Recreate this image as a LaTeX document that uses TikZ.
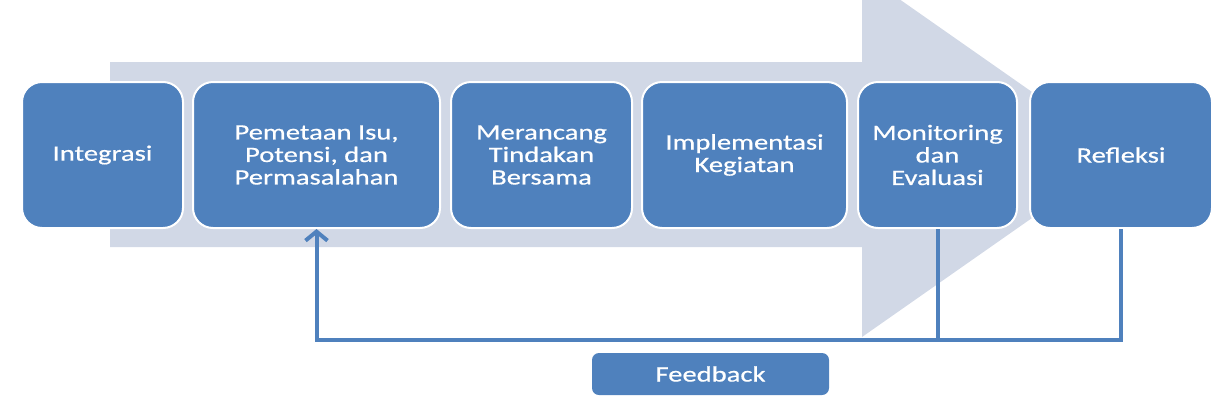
\documentclass[tikz,border=0pt]{standalone}
\usepackage{fontspec}
\setmainfont{Carlito}[FakeStretch=1.3,FakeBold=0.6]
\usetikzlibrary{arrows.meta}
\definecolor{boxblue}{HTML}{4F81BD}
\definecolor{arrowgray}{HTML}{D1D8E6}
\begin{document}
\begin{tikzpicture}[x=1pt,y=-1pt,
  stage/.style={fill=boxblue, draw=white, line width=2pt, rounded corners=20pt,
    text=white, align=center, font=\fontsize{22}{22.5}\selectfont, inner sep=0pt,
    minimum height=146pt},
  fbbox/.style={fill=boxblue, rounded corners=7pt, text=white,
    font=\fontsize{22}{22.5}\selectfont, inner sep=0pt},
  fbl/.style={draw=boxblue, line width=4pt}]
\useasboundingbox (0,0) rectangle (1226,410);
\clip (0,0) rectangle (1226,410);
% big background arrow
\fill[arrowgray] (110,62) -- (862,62) -- (862,-27) -- (1122,155) -- (862,337) -- (862,247) -- (110,247) -- cycle;
% stages
\node[stage, minimum width=161pt] (int) at (102.5,155) {Integrasi};
\node[stage, minimum width=247pt] (pem) at (316.5,155) {Pemetaan Isu,\\Potensi, dan\\Permasalahan};
\node[stage, minimum width=181pt] (mer) at (541.5,155) {Merancang\\Tindakan\\Bersama};
\node[stage, minimum width=205pt] (imp) at (744.5,155) {Implementasi\\Kegiatan};
\node[stage, minimum width=159pt] (mon) at (937.5,155) {Monitoring\\dan\\Evaluasi};
\node[stage, minimum width=182pt] (ref) at (1121,155) {Refleksi};
% feedback
\node[fbbox, minimum width=237pt, minimum height=42pt] (fb) at (710.5,374) {Feedback};
\coordinate (corner) at (316.5,340);
\draw[fbl, -{Straight Barb[length=9pt,width=22pt,line width=4pt]}] (ref.south) |- (corner) -- (pem.south);
\draw[fbl] (mon.south) -- (mon.south |- corner);
\end{tikzpicture}
\end{document}
